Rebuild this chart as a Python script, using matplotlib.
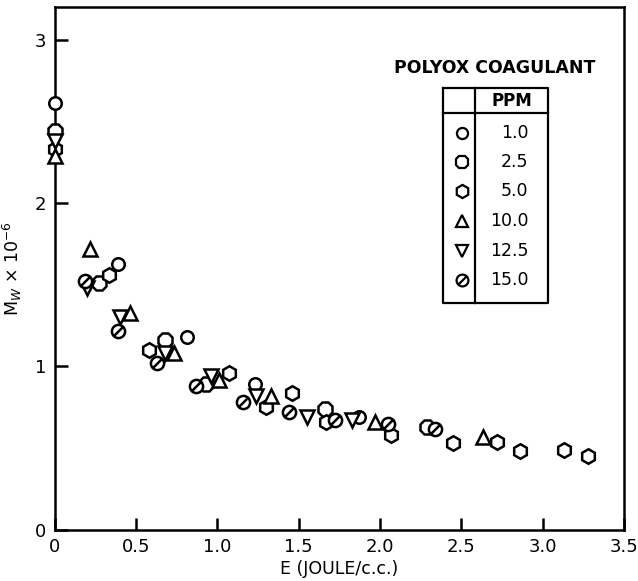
import numpy as np
import matplotlib
matplotlib.use("Agg")
import matplotlib.pyplot as plt
from matplotlib.path import Path
from matplotlib.lines import Line2D

# Polyox coagulant: molecular weight vs energy
ppm_labels = ["1.0", "2.5", "5.0", "10.0", "12.5", "15.0"]

e_1_0 = [0.0, 0.39, 0.81, 1.23, 1.87]
mw_1_0 = [2.61, 1.63, 1.18, 0.89, 0.69]

e_2_5 = [0.0, 0.27, 0.68, 0.93, 1.66, 2.29]
mw_2_5 = [2.44, 1.51, 1.16, 0.89, 0.74, 0.63]

e_5_0 = [0.0, 0.33, 0.58, 1.07, 1.30, 1.46, 1.67, 2.07, 2.45, 2.72, 2.86, 3.13, 3.28]
mw_5_0 = [2.33, 1.56, 1.10, 0.96, 0.75, 0.84, 0.66, 0.58, 0.53, 0.54, 0.48, 0.49, 0.45]

e_10 = [0.0, 0.215, 0.46, 0.73, 1.01, 1.33, 1.97, 2.63]
mw_10 = [2.29, 1.72, 1.33, 1.08, 0.92, 0.82, 0.66, 0.57]

e_12_5 = [0.0, 0.195, 0.40, 0.68, 0.96, 1.24, 1.55, 1.83]
mw_12_5 = [2.38, 1.48, 1.30, 1.08, 0.94, 0.82, 0.69, 0.67]

e_15 = [0.185, 0.39, 0.63, 0.87, 1.16, 1.44, 1.72, 2.05, 2.34]
mw_15 = [1.52, 1.22, 1.02, 0.88, 0.78, 0.72, 0.67, 0.65, 0.62]

x_ticks = [0, 0.5, 1.0, 1.5, 2.0, 2.5, 3.0, 3.5]
x_ticklabels = ["0", "0.5", "1.0", "1.5", "2.0", "2.5", "3.0", "3.5"]
y_ticks = [0, 1, 2, 3]

# circle with a slash
slash_circle = Path.make_compound_path(
    Path.unit_circle(),
    Path([(-0.62, -0.62), (0.62, 0.62)], [Path.MOVETO, Path.LINETO]))

series = [
    (e_1_0, mw_1_0, "o", 9),
    (e_2_5, mw_2_5, "8", 10.5),
    (e_5_0, mw_5_0, "h", 10.5),
    (e_10, mw_10, "^", 10),
    (e_12_5, mw_12_5, "v", 10),
    (e_15, mw_15, slash_circle, 9.5),
]

plt.rcParams['font.family'] = ['DejaVu Sans']

fig = plt.figure(figsize=(6.38, 5.81), dpi=100)
ax = fig.add_axes([0.086, 0.088, 0.892, 0.900])

for xs, ys, m, ms in series:
    ax.plot(xs, ys, linestyle="none", marker=m, markersize=ms,
            markerfacecolor="white", markeredgecolor="black",
            markeredgewidth=1.8, clip_on=False, zorder=3)

ax.set_xlim(0, 3.5)
ax.set_ylim(0, 3.2)
ax.set_xticks(x_ticks)
ax.set_xticklabels(x_ticklabels)
ax.set_yticks(y_ticks)
ax.tick_params(direction="in", length=9, width=1.8, labelsize=13, pad=6)
for s in ax.spines.values():
    s.set_linewidth(1.8)

ax.set_xlabel("E (JOULE/c.c.)", fontsize=12.5, labelpad=3)
ax.set_ylabel(r"M$_W$ $\times$ 10$^{-6}$", fontsize=12.5, labelpad=8)

# legend drawn as a small table
tx0, tx1, tx2 = 0.682, 0.738, 0.866
ty_top, ty_head, ty_bot = 0.845, 0.797, 0.434
kw = dict(transform=ax.transAxes, color="black", linewidth=1.6, clip_on=False)
ax.add_line(Line2D([tx0, tx2, tx2, tx0, tx0], [ty_top, ty_top, ty_bot, ty_bot, ty_top], **kw))
ax.add_line(Line2D([tx1, tx1], [ty_top, ty_bot], **kw))
ax.add_line(Line2D([tx0, tx2], [ty_head, ty_head], **kw))

ax.text(0.773, 0.883, "POLYOX COAGULANT", transform=ax.transAxes,
        ha="center", va="center", fontsize=12.5, fontweight="bold")
ax.text(0.803, 0.821, "PPM", transform=ax.transAxes,
        ha="center", va="center", fontsize=12, fontweight="bold")

row_y = [0.759, 0.704, 0.648, 0.591, 0.533, 0.478]
for (xs, ys, m, ms), lab, yy in zip(series, ppm_labels, row_y):
    ax.plot([0.715], [yy], transform=ax.transAxes, linestyle="none", marker=m,
            markersize=ms - 1, markerfacecolor="white", markeredgecolor="black",
            markeredgewidth=1.6, clip_on=False)
    ax.text(0.832, yy, lab, transform=ax.transAxes, ha="right", va="center",
            fontsize=12.5)

fig.savefig("out.png", dpi=100)
